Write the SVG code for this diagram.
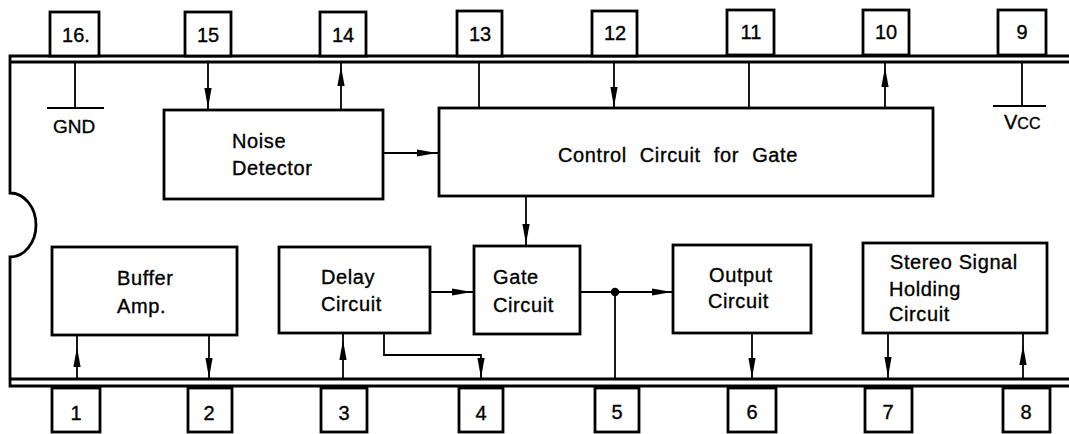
<svg xmlns="http://www.w3.org/2000/svg" width="1069" height="434" viewBox="0 0 1069 434">
<style>
.ic{fill:none;stroke:#000;stroke-width:2.8}
.blk{fill:#fff;stroke:#000;stroke-width:2.8}
.pin{fill:#fff;stroke:#000;stroke-width:2.8}
.w{fill:none;stroke:#000;stroke-width:1.8}
text{font-family:"Liberation Sans",Arial,Helvetica,sans-serif;fill:#000;stroke:#000;stroke-width:0.35}
.lbl{font-size:20px;letter-spacing:0.6px}
.num{font-size:20px;text-anchor:middle}
</style>
<defs>
<path id="ah" d="M0,0 L-3.6,-20 L3.6,-20 Z" fill="#000"/>
</defs>
<rect width="1069" height="434" fill="#fff"/>

<g id="chip">
<path class="ic" d="M1069,56 H10 V193 A26,32 0 0 1 10,257 V386 H1069"/>
<path class="ic" d="M10,62 H1069 M10,379 H1069"/>
</g>

<g id="pins-top">
<g id="pin16"><rect class="pin" x="50" y="12" width="49" height="44"/><text class="num" x="76" y="42">16.</text></g>
<g id="pin15"><rect class="pin" x="185" y="12" width="46" height="44"/><text class="num" x="208" y="42">15</text></g>
<g id="pin14"><rect class="pin" x="320" y="12" width="46" height="44"/><text class="num" x="343" y="42">14</text></g>
<g id="pin13"><rect class="pin" x="457" y="11" width="45" height="45"/><text class="num" x="480" y="41">13</text></g>
<g id="pin12"><rect class="pin" x="592" y="11" width="45" height="45"/><text class="num" x="615" y="40">12</text></g>
<g id="pin11"><rect class="pin" x="727" y="10" width="47" height="45"/><text class="num" x="751" y="39">11</text></g>
<g id="pin10"><rect class="pin" x="863" y="10" width="46" height="45"/><text class="num" x="886" y="39">10</text></g>
<g id="pin9"><rect class="pin" x="998" y="10" width="48" height="45"/><text class="num" x="1022" y="39">9</text></g>
</g>

<g id="pins-bottom">
<g id="pin1"><rect class="pin" x="52" y="388" width="48" height="44"/><text class="num" x="76" y="420">1</text></g>
<g id="pin2"><rect class="pin" x="188" y="388" width="44" height="44"/><text class="num" x="209" y="420">2</text></g>
<g id="pin3"><rect class="pin" x="321" y="388" width="46" height="44"/><text class="num" x="344" y="420">3</text></g>
<g id="pin4"><rect class="pin" x="459" y="388" width="44" height="44"/><text class="num" x="481" y="420">4</text></g>
<g id="pin5"><rect class="pin" x="595" y="388" width="44" height="44"/><text class="num" x="617" y="419">5</text></g>
<g id="pin6"><rect class="pin" x="728" y="388" width="48" height="44"/><text class="num" x="752" y="419">6</text></g>
<g id="pin7"><rect class="pin" x="865" y="388" width="47" height="44"/><text class="num" x="888" y="419">7</text></g>
<g id="pin8"><rect class="pin" x="1003" y="388" width="47" height="44"/><text class="num" x="1026" y="419">8</text></g>
</g>

<g id="connectors">
<path class="w" d="M75,62 V108 M47,108 H104"/>
<path class="w" d="M208,62 V110"/>
<path class="w" d="M341,62 V110"/>
<path class="w" d="M479,62 V108"/>
<path class="w" d="M614,62 V108"/>
<path class="w" d="M749,62 V108"/>
<path class="w" d="M885,62 V108"/>
<path class="w" d="M1022,62 V106 M993,106 H1046"/>
<path class="w" d="M383,153 H439"/>
<path class="w" d="M526,196 V246"/>
<path class="w" d="M430,292 H474"/>
<path class="w" d="M580,292 H673"/>
<path class="w" d="M615,292 V379"/>
<path class="w" d="M77,335 V379"/>
<path class="w" d="M209,335 V379"/>
<path class="w" d="M343,333 V379"/>
<path class="w" d="M384,333 V355 H481 V379"/>
<path class="w" d="M752,333 V379"/>
<path class="w" d="M888,333 V379"/>
<path class="w" d="M1023,333 V379"/>
<circle cx="615" cy="292" r="4.2" fill="#000"/>
<use href="#ah" transform="translate(208,108)"/>
<use href="#ah" transform="translate(341,66) rotate(180)"/>
<use href="#ah" transform="translate(614,107)"/>
<use href="#ah" transform="translate(885,67) rotate(180)"/>
<use href="#ah" transform="translate(437,153) rotate(-90)"/>
<use href="#ah" transform="translate(526,244)"/>
<use href="#ah" transform="translate(472,292) rotate(-90)"/>
<use href="#ah" transform="translate(672,292) rotate(-90)"/>
<use href="#ah" transform="translate(77,347) rotate(180)"/>
<use href="#ah" transform="translate(209,378)"/>
<use href="#ah" transform="translate(343,340) rotate(180)"/>
<use href="#ah" transform="translate(481,378)"/>
<use href="#ah" transform="translate(752,378)"/>
<use href="#ah" transform="translate(888,377)"/>
<use href="#ah" transform="translate(1023,345) rotate(180)"/>
</g>

<g id="gnd"><text x="53" y="133" style="font-size:19px">GND</text></g>
<g id="vcc"><text x="1004" y="129" style="font-size:20px">V<tspan style="font-size:16px">CC</tspan></text></g>

<g id="noise-detector">
<rect class="blk" x="164" y="110" width="219" height="89"/>
<text class="lbl" x="232" y="148">Noise</text>
<text class="lbl" x="232" y="175">Detector</text>
</g>
<g id="control-circuit">
<rect class="blk" x="439" y="108" width="494" height="88"/>
<text class="lbl" x="558" y="162" style="word-spacing:7px">Control Circuit for Gate</text>
</g>
<g id="buffer-amp">
<rect class="blk" x="52" y="247" width="185" height="88"/>
<text class="lbl" x="117" y="285">Buffer</text>
<text class="lbl" x="117" y="313">Amp.</text>
</g>
<g id="delay-circuit">
<rect class="blk" x="279" y="247" width="151" height="86"/>
<text class="lbl" x="321" y="284">Delay</text>
<text class="lbl" x="321" y="311">Circuit</text>
</g>
<g id="gate-circuit">
<rect class="blk" x="474" y="246" width="106" height="88"/>
<text class="lbl" x="493" y="284">Gate</text>
<text class="lbl" x="493" y="312">Circuit</text>
</g>
<g id="output-circuit">
<rect class="blk" x="673" y="245" width="138" height="88"/>
<text class="lbl" x="709" y="282">Output</text>
<text class="lbl" x="708" y="308">Circuit</text>
</g>
<g id="stereo-holding">
<rect class="blk" x="863" y="243" width="184" height="90"/>
<text class="lbl" x="890" y="269">Stereo Signal</text>
<text class="lbl" x="889" y="296">Holding</text>
<text class="lbl" x="889" y="321">Circuit</text>
</g>
</svg>
